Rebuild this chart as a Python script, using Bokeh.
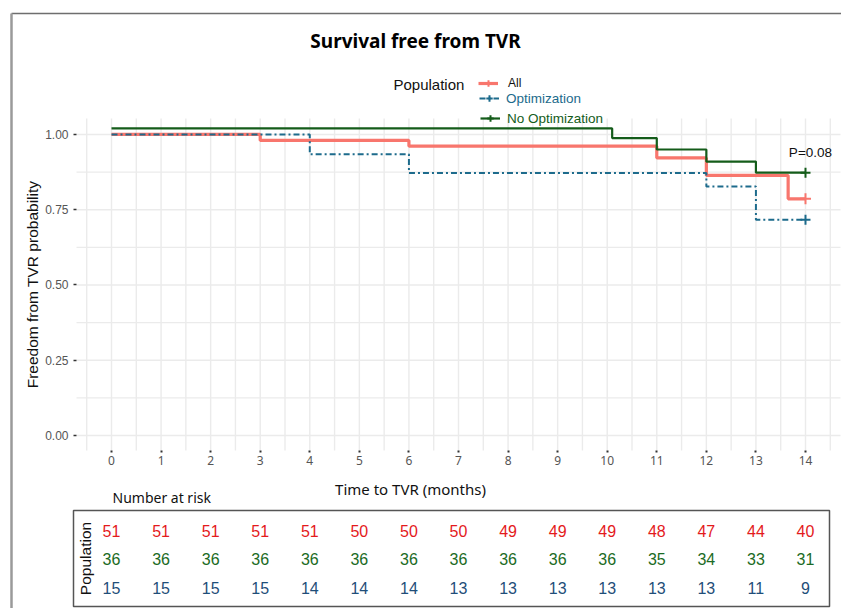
import math
from bokeh.plotting import figure
from bokeh.models import (Range1d, FixedTicker, Label, Legend, LegendItem,
                          NumeralTickFormatter)
from bokeh.embed import file_html
from bokeh.resources import INLINE

# ---------------- data ----------------
all_time = [0, 3, 6, 11, 12, 13.65, 14]
all_surv = [1.0, 0.980, 0.961, 0.922, 0.864, 0.786, 0.786]
opt_time = [0, 4, 6, 12, 13, 14]
opt_surv = [1.0, 0.934, 0.872, 0.827, 0.717, 0.717]
nonopt_time = [0, 10.1, 11, 12, 13, 14]
nonopt_surv = [1.02, 0.988, 0.950, 0.910, 0.873, 0.873]

risk_times = list(range(15))
risk_all = [51, 51, 51, 51, 51, 50, 50, 50, 49, 49, 49, 48, 47, 44, 40]
risk_nonopt = [36, 36, 36, 36, 36, 36, 36, 36, 36, 36, 36, 35, 34, 33, 31]
risk_opt = [15, 15, 15, 15, 14, 14, 14, 13, 13, 13, 13, 13, 13, 11, 9]

x_ticks = list(range(15))
x_minor = [k + 0.5 for k in range(-1, 15)]
y_ticks = [0, 0.25, 0.5, 0.75, 1.0]
y_minor = [0.125, 0.375, 0.625, 0.875]

series_names = ["All", "Optimization", "No Optimization"]
title_text = "Survival free from TVR"
p_text = "P=0.08"
p_pos = (14.1, 0.94)

# ---------------- style / layout ----------------
RED = "#F8766D"
BLUE = "#1D6B8C"
GREEN = "#145C1A"
T_RED = "#E41A1C"
T_GREEN = "#1B6B24"
T_BLUE = "#1F4E79"
GRID = "#EBEBEB"
ARIAL = "Liberation Sans"
SEGOE = "Noto Sans"

W, H = 841, 608
panel_x = (-0.706, 14.706)     # expanded x limits of the panel
panel_y = (-0.0498, 1.053)     # expanded y limits of the panel

p = figure(width=W, height=H, output_backend="svg", toolbar_location=None,
           x_range=Range1d(-2.2392, 14.7263), y_range=Range1d(-0.57466, 1.44494),
           min_border=0)
p.extra_x_ranges = {"px": Range1d(0, W)}
p.extra_y_ranges = {"px": Range1d(H, 0)}
p.outline_line_color = None
p.background_fill_color = "white"
p.border_fill_color = "white"
p.xgrid.grid_line_color = None
p.ygrid.grid_line_color = None

# axes drawn at the panel edges
p.xaxis.ticker = FixedTicker(ticks=x_ticks)
p.yaxis.ticker = FixedTicker(ticks=y_ticks)
p.yaxis.formatter = NumeralTickFormatter(format="0.00")
p.xaxis.fixed_location = panel_y[0]
p.yaxis.fixed_location = panel_x[0]
for ax in (p.xaxis, p.yaxis):
    ax.axis_line_color = None
    ax.minor_tick_line_color = None
    ax.major_tick_in = 0
    ax.major_tick_line_color = "#333333"
    ax.major_label_text_color = "#555555"
    ax.major_label_text_font_size = "12px"
p.xaxis.major_tick_out = 2
p.xaxis.major_tick_line_width = 2
p.xaxis.major_label_standoff = 4
p.xaxis.major_label_text_font = SEGOE
p.yaxis.major_tick_out = 3
p.yaxis.major_tick_line_width = 1.5
p.yaxis.major_label_standoff = 5
p.yaxis.major_label_text_font = ARIAL

# grid lines inside the panel
xg = sorted(x_ticks + x_minor)
p.segment(x0=xg, x1=xg, y0=[panel_y[0]] * len(xg), y1=[panel_y[1]] * len(xg),
          line_color=GRID, line_width=1.4)
yg = sorted(y_ticks + y_minor)
p.segment(x0=[panel_x[0]] * len(yg), x1=[panel_x[1]] * len(yg), y0=yg, y1=yg,
          line_color=GRID, line_width=1.4)

# curves
r_all = p.step(all_time, all_surv, mode="after", line_color=RED, line_width=3.2)
c_all = p.scatter([all_time[-1]], [all_surv[-1]], marker="cross", size=11,
                  line_color=RED, line_width=2)
r_opt = p.step(opt_time, opt_surv, mode="after", line_color=BLUE, line_width=2,
               line_dash="6 3 2 3")
c_opt = p.scatter([opt_time[-1]], [opt_surv[-1]], marker="cross", size=10,
                  line_color=BLUE, line_width=2)
r_non = p.step(nonopt_time, nonopt_surv, mode="after", line_color=GREEN,
               line_width=2.2)
c_non = p.scatter([nonopt_time[-1]], [nonopt_surv[-1]], marker="cross", size=10,
                  line_color=GREEN, line_width=2)

p.add_layout(Label(x=p_pos[0], y=p_pos[1], text=p_text, text_align="center",
                   text_baseline="middle", text_font=ARIAL, text_font_size="13.5px",
                   text_color="#111111"))


def add_legend(name, rends, x, y, color, size, standoff):
    lg = Legend(items=[LegendItem(label=name, renderers=rends)], location=(x, y),
                border_line_color=None, background_fill_alpha=0, padding=0,
                margin=0, glyph_width=20, glyph_height=16, label_height=16,
                label_standoff=standoff, label_text_color=color,
                label_text_font_size=size, label_text_font=ARIAL, spacing=0)
    p.add_layout(lg, "center")


# location = bottom-left of each legend box, in px from the canvas bottom-left
add_legend(series_names[0], [r_all, c_all], 478, H - 91, "#111111", "12px", 10)
add_legend(series_names[1], [r_opt, c_opt], 479, H - 106, BLUE, "13.5px", 7)
add_legend(series_names[2], [r_non, c_non], 480, H - 126, GREEN, "13.5px", 7)


def plabel(text, x, y, size, font, color="#111111", align="left", angle=0.0,
           style="normal"):
    p.add_layout(Label(x=x, y=y, x_range_name="px", y_range_name="px", text=text,
                       text_align=align, text_baseline="middle",
                       text_font_size=size, text_font=font, text_color=color,
                       angle=angle, text_font_style=style))


plabel(title_text, 415, 40, "19px", SEGOE, "#000000", "center", style="bold")
plabel("Population", 393, 84, "15px", ARIAL)
plabel("Freedom from TVR probability", 32, 284, "15.5px", ARIAL, align="center",
       angle=math.pi / 2)
plabel("Time to TVR (months)", 410, 488, "15px", SEGOE, align="center")
plabel("Number at risk", 112, 497, "14px", SEGOE)
plabel("Population", 85, 558, "15.5px", ARIAL, align="center", angle=math.pi / 2)

rows = [(risk_all, T_RED, 530), (risk_nonopt, T_GREEN, 558), (risk_opt, T_BLUE, 587)]
for vals, col, row_y in rows:
    for t, v in zip(risk_times, vals):
        p.add_layout(Label(x=t, y=row_y, y_range_name="px", text=str(v),
                           text_align="center", text_baseline="middle",
                           text_font=ARIAL, text_font_size="16px", text_color=col))

# risk table box and outer frame
p.quad(left=[73], right=[829], top=[510], bottom=[606], fill_color=None,
       line_color="#555555", line_width=1.5, x_range_name="px", y_range_name="px")
p.segment(x0=[11], x1=[W], y0=[13], y1=[13], line_color="#6E6E6E", line_width=1.5,
          x_range_name="px", y_range_name="px")
p.segment(x0=[11], x1=[11], y0=[13], y1=[H], line_color="#9A9A9A", line_width=2.5,
          x_range_name="px", y_range_name="px")

open("out.html", "w").write(file_html(p, INLINE))
